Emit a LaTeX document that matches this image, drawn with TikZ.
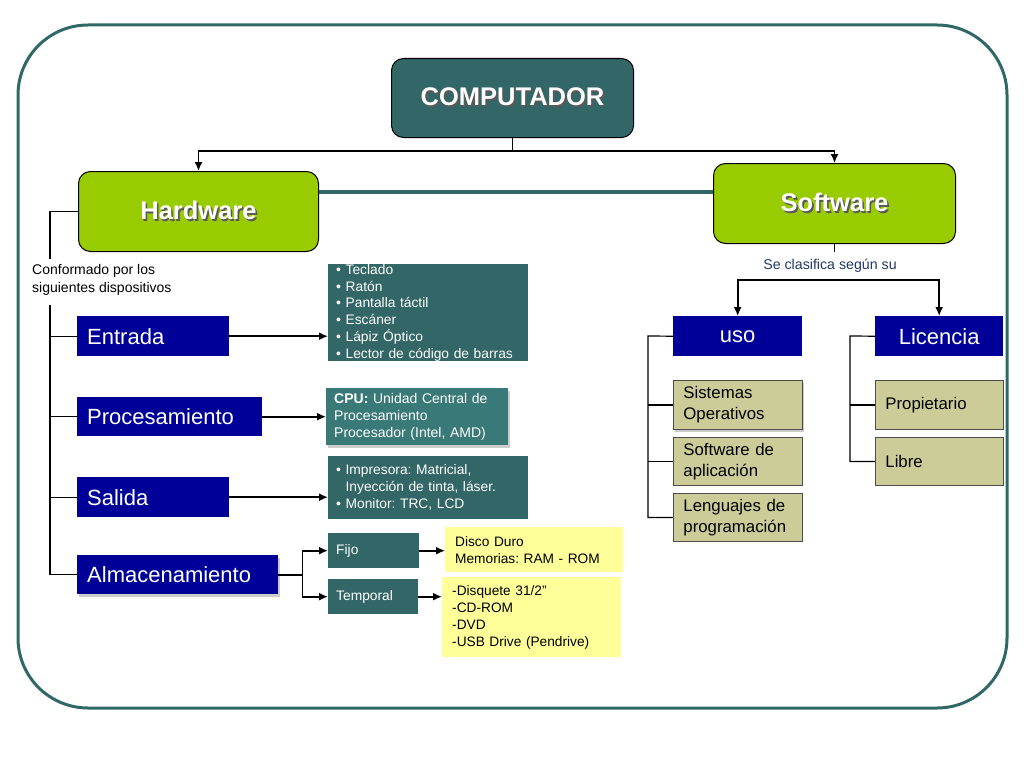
\documentclass[tikz,border=0pt]{standalone}
\usepackage{fontspec}
\setmainfont{Liberation Sans}
\usepackage{tikz}
\usetikzlibrary{arrows.meta,shadows}
\frenchspacing

\definecolor{frameteal}{RGB}{47,104,102}
\definecolor{darkteal}{RGB}{51,102,102}
\definecolor{cputeal}{RGB}{57,122,120}
\definecolor{limegreen}{RGB}{153,204,0}
\definecolor{navyblue}{RGB}{0,0,153}
\definecolor{khaki}{RGB}{204,204,153}
\definecolor{paleyellow}{RGB}{255,255,153}
\definecolor{labelblue}{RGB}{31,56,100}

\newcommand{\shadowtext}[1]{\makebox[0pt][l]{\hspace{1.6pt}\raisebox{-1.6pt}{\textcolor{black!65}{#1}}}\textcolor{white}{#1}}

\tikzset{
  topbox/.style={draw=black, line width=1pt, rounded corners=12pt, anchor=north west,
    font=\bfseries\fontsize{25.5}{30}\selectfont},
  navybox/.style={fill=navyblue, text=white, anchor=north west, align=left,
    inner xsep=10pt, inner ysep=0pt, font=\fontsize{22}{26}\selectfont},
  tealbox/.style={fill=darkteal, text=white, anchor=north west, align=left,
    inner xsep=8pt, inner ysep=0pt, font=\fontsize{13.8}{17}\selectfont},
  khakibox/.style={fill=khaki, draw=black!70, line width=0.8pt, anchor=north west, align=left,
    inner xsep=10pt, inner ysep=0pt, font=\fontsize{16.8}{20.5}\selectfont},
  yellowbox/.style={fill=paleyellow, anchor=north west, align=left,
    inner xsep=10pt, inner ysep=0pt, font=\fontsize{13.7}{17}\selectfont},
  line/.style={draw=black, line width=1.2pt},
  conn/.style={draw=black, line width=1.6pt, -{Latex[length=9pt,width=8pt]}},
}

\begin{document}
\begin{tikzpicture}[x=1pt, y=-1pt]
  \useasboundingbox (0,0) rectangle (1024,768);
  % frame
  \draw[frameteal, line width=3pt, rounded corners=70pt] (18,25) rectangle (1007,708);

  % top level
  \node[topbox, fill=darkteal, minimum width=242pt, minimum height=79pt] (comp) at (391,58) {\shadowtext{COMPUTADOR}};
  \node[topbox, fill=limegreen, minimum width=240pt, minimum height=80pt] (hw) at (78,171) {\shadowtext{Hardware}};
  \node[topbox, fill=limegreen, minimum width=242pt, minimum height=80pt] (sw) at (713,163) {\shadowtext{Software}};
  \draw[frameteal, line width=4pt] (hw.east |- 0,192) -- (sw.west |- 0,192);
  \draw[conn] (comp.south) -- ++(0,13) -| (hw.north);
  \draw[conn] (comp.south) -- ++(0,13) -| (sw.north);

  % hardware
  \node[anchor=north west, align=left, inner sep=0pt, font=\fontsize{14}{18}\selectfont] (conf) at (32,264) {Conformado por los\\siguientes dispositivos};
  \draw[line] (hw.west) -- ++(-28,0) -- ++(0,47);
  \coordinate (trunk) at (50,305);
  \node[navybox, text width=132pt, minimum height=40pt] (ent) at (77,316) {Entrada};
  \node[navybox, text width=165pt, minimum height=39pt] (proc) at (77,397) {Procesamiento};
  \node[navybox, text width=132pt, minimum height=40pt] (sal) at (77,477) {Salida};
  \node[navybox, text width=181pt, minimum height=39pt, drop shadow={shadow xshift=2pt, shadow yshift=-3pt, opacity=0.4}] (alm) at (77,555) {Almacenamiento};
  \draw[line] (trunk) |- (alm.west);
  \draw[line] (ent.west) -- (ent.west -| trunk);
  \draw[line] (proc.west) -- (proc.west -| trunk);
  \draw[line] (sal.west) -- (sal.west -| trunk);

  \node[tealbox, text width=184pt, minimum height=96pt, font=\fontsize{13.8}{16.8}\selectfont] (entl) at (328,264)
    {\textbullet\ Teclado\\\textbullet\ Ratón\\\textbullet\ Pantalla táctil\\\textbullet\ Escáner\\\textbullet\ Lápiz Óptico\\\textbullet\ Lector de código de barras};
  \node[tealbox, fill=cputeal, text width=166pt, minimum height=57pt, font=\fontsize{14}{17}\selectfont, drop shadow={shadow xshift=2pt, shadow yshift=-3pt, opacity=0.4}] (cpu) at (326,388)
    {\textbf{CPU:} Unidad Central de\\Procesamiento\\Procesador (Intel, AMD)};
  \node[tealbox, text width=184pt, minimum height=63pt] (sall) at (328,456)
    {\textbullet\ Impresora: Matricial,\\\phantom{\textbullet}\ Inyección de tinta, láser.\\\textbullet\ Monitor: TRC, LCD};
  \draw[conn] (ent.east) -- (ent.east -| entl.west);
  \draw[conn] (proc.east) -- (proc.east -| cpu.west);
  \draw[conn] (sal.east) -- (sal.east -| sall.west);

  \node[tealbox, text width=75pt, minimum height=35pt] (fijo) at (328,533) {Fijo};
  \node[tealbox, text width=74pt, minimum height=35pt] (temp) at (328,579) {Temporal};
  \draw[conn] (alm.east) -- ++(24,0) |- (fijo.west);
  \draw[conn] (alm.east) -- ++(24,0) |- (temp.west);
  \node[yellowbox, text width=158pt, minimum height=45pt] (fijol) at (445,527) {Disco Duro\\Memorias: RAM - ROM};
  \node[yellowbox, text width=159pt, minimum height=80pt] (templ) at (442,577) {-Disquete 31/2”\\-CD-ROM\\-DVD\\-USB Drive (Pendrive)};
  \draw[conn] (fijo.east) -- (fijo.east -| fijol.west);
  \draw[conn] (temp.east) -- (temp.east -| templ.west);

  % software
  \draw[line] (sw.south) -- ++(0,8);
  \node[text=labelblue, inner sep=0pt, font=\fontsize{14.2}{17}\selectfont] (clas) at (830,266) {Se clasifica según su};
  \coordinate (split) at (sw.south |- 0,280);
  \node[navybox, align=center, text width=109pt, minimum height=40pt] (uso) at (673,316) {uso};
  \node[navybox, align=center, text width=108pt, minimum height=40pt] (lic) at (875,316) {Licencia};
  \draw[conn] (split) -| (uso.north);
  \draw[conn] (split) -| (lic.north);

  \node[khakibox, text width=109pt, minimum height=49pt, drop shadow={shadow xshift=2pt, shadow yshift=-3pt, opacity=0.4}] (sist) at (673,380) {Sistemas\\Operativos};
  \node[khakibox, text width=109pt, minimum height=48pt] (apl) at (673,437) {Software de\\aplicación};
  \node[khakibox, text width=109pt, minimum height=48pt] (leng) at (673,493) {Lenguajes de\\programación};
  \coordinate (usotrunk) at (648,336);
  \draw[line] (uso.west) -- (usotrunk) |- (leng.west);
  \draw[line] (sist.west) -- (sist.west -| usotrunk);
  \draw[line] (apl.west) -- (apl.west -| usotrunk);

  \node[khakibox, text width=108pt, minimum height=49pt] (prop) at (875,380) {Propietario};
  \node[khakibox, text width=108pt, minimum height=48pt] (libre) at (875,437) {Libre};
  \coordinate (lictrunk) at (850,336);
  \draw[line] (lic.west) -- (lictrunk) |- (libre.west);
  \draw[line] (prop.west) -- (prop.west -| lictrunk);
\end{tikzpicture}
\end{document}
